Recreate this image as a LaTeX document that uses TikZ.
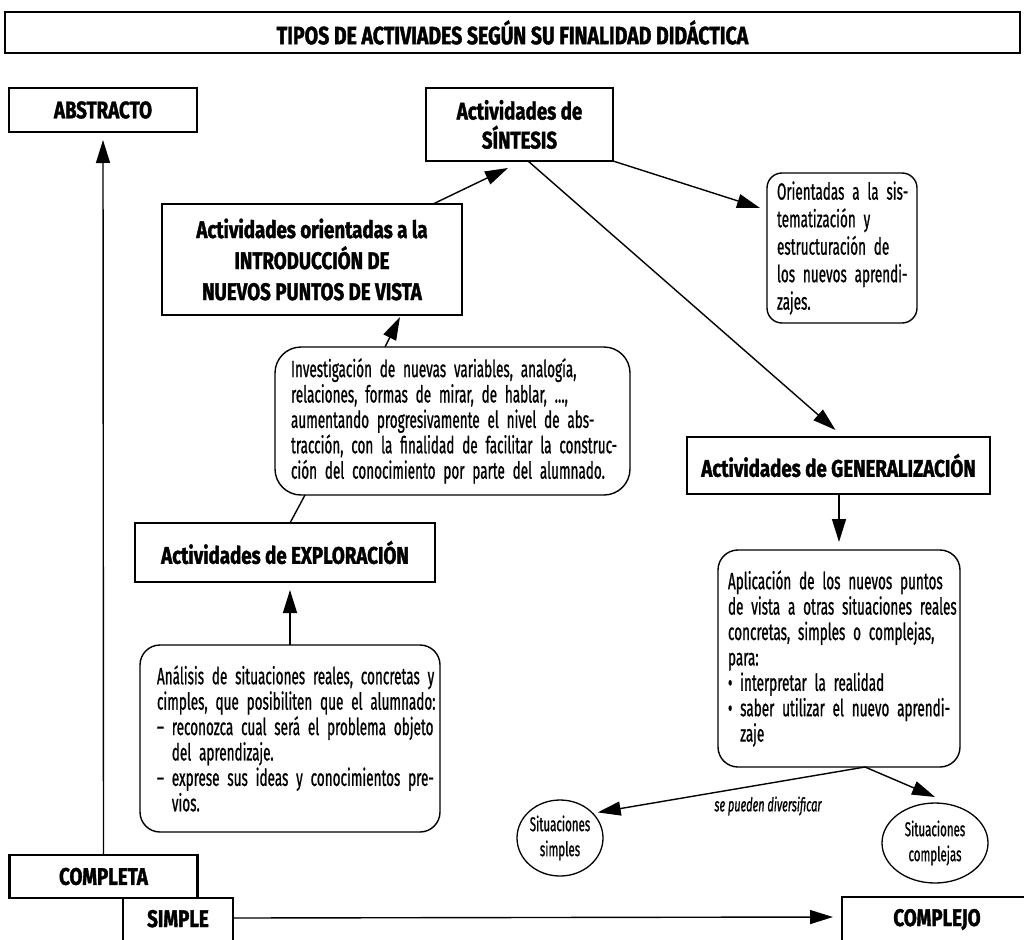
\documentclass[tikz,border=0pt]{standalone}
\usepackage{fontspec}
\setmainfont{Fira Sans}[FakeStretch=0.575, FakeBold=0.8]
\newfontfamily\headfont{Fira Sans}[FakeStretch=0.78, BoldFeatures={FakeBold=1.5}]
\usetikzlibrary{arrows.meta,shapes.geometric}
% a line of a justified paragraph, stretched to the full width
\newcommand{\jline}[1]{\makebox[\hsize][s]{#1}}

\begin{document}
\begin{tikzpicture}[x=1pt,y=-1pt,
  every node/.style={inner sep=0pt, outer sep=0pt},
  hbox/.style={draw, line width=2.2pt, align=center,
    font=\headfont\bfseries\fontsize{24}{29}\selectfont},
  note/.style={draw, line width=1.4pt, rounded corners=#1, align=left,
    font=\fontsize{23.5}{25.4}\selectfont},
  note/.default=18pt,
  oval/.style={draw, ellipse, line width=1.3pt, align=center,
    font=\fontsize{20}{25}\selectfont},
  link/.style={line width=1.4pt, -{Triangle[length=23pt,width=14pt]}},
  wire/.style={line width=1.4pt}]

\useasboundingbox (0,0) rectangle (1024,939);

% headings
\node[hbox, minimum width=1015pt, minimum height=41pt,
  font=\headfont\bfseries\fontsize{25}{29}\selectfont] (title) at (512.5,32.5)
  {TIPOS DE ACTIVIADES SEGÚN SU FINALIDAD DIDÁCTICA};
\node[hbox, minimum width=188pt, minimum height=44pt] (abstracto) at (103,110) {ABSTRACTO};
\node[hbox, minimum width=187pt, minimum height=73pt] (sintesis) at (519.5,124.5)
  {Actividades de\\SÍNTESIS};
\node[hbox, minimum width=300pt, minimum height=111pt,
  font=\headfont\bfseries\fontsize{24}{31}\selectfont] (intro) at (312,259.5)
  {Actividades orientadas a la\\INTRODUCCIÓN DE\\NUEVOS PUNTOS DE VISTA};
\node[hbox, minimum width=300pt, minimum height=59pt] (explor) at (285,552.5)
  {Actividades de EXPLORACIÓN};
\node[hbox, minimum width=303pt, minimum height=57pt] (general) at (838.5,465.5)
  {Actividades de GENERALIZACIÓN};
\node[hbox, minimum width=188pt, minimum height=43pt] (completa) at (103.5,876.5) {COMPLETA};
\node[hbox, anchor=north, minimum width=110pt, text height=29pt, text depth=40pt]
  (simple) at (178,898) {SIMPLE};
\node[hbox, anchor=north west, minimum width=190pt, text height=29pt, text depth=40pt]
  (complejo) at (842,897) {COMPLEJO};

% explanatory notes
\node[note=15pt, minimum width=150pt, minimum height=150pt, text width=130pt,
  font=\fontsize{23.5}{27.5}\selectfont] (orient) at (842,248) {%
  \jline{Orientadas a la sis-}\\
  \jline{tematización y}\\
  \jline{estructuración de}\\
  \jline{los nuevos aprendi-}\\
  zajes.};
\node[note=26pt, minimum width=355pt, minimum height=148pt, text width=323pt]
  (invest) at (452.5,421) {%
  \jline{Investigación de nuevas variables, analogía,}\\
  \jline{relaciones, formas de mirar, de hablar, …,}\\
  \jline{aumentando progresivamente el nivel de abs-}\\
  \jline{tracción, con la finalidad de facilitar la construc-}\\
  ción del conocimiento por parte del alumnado.};
\node[note=20pt, minimum width=300pt, minimum height=187pt, text width=266pt]
  (analisis) at (290,738.5) {%
  \jline{Análisis de situaciones reales, concretas y}\\
  \jline{cimples, que posibiliten que el alumnado:}\\
  \jline{– reconozca cual será el problema objeto}\\
  \hphantom{– }del aprendizaje.\\
  \jline{– exprese sus ideas y conocimientos pre-}\\
  \hphantom{– }vios.};
\node[note=20pt, minimum width=242pt, minimum height=217pt, text width=222pt]
  (aplic) at (839,658.5) {%
  \jline{Aplicación de los nuevos puntos}\\
  \jline{de vista a otras situaciones reales}\\
  \jline{concretas, simples o complejas,}\\
  para:\\
  • interpretar la realidad\\
  \jline{• saber utilizar el nuevo aprendi-}\\
  \hphantom{• }zaje};

% situations
\node[oval, minimum width=86pt, minimum height=76pt] (simples) at (560,838) {Situaciones\\simples};
\node[oval, minimum width=106pt, minimum height=80pt] (complejas) at (935,843) {Situaciones\\complejas};
\node[font=\itshape\fontsize{19}{20}\selectfont] (divers) at (768,806) {se pueden diversificar};

% connectors
\draw[link] (completa.north) -- ([yshift=-8pt]abstracto.south);
\draw[link] ([yshift=9pt]simple.base east) -- ([xshift=-9pt,yshift=9pt]complejo.base west);
\draw[link] ([xshift=121pt]intro.north) -- ([xshift=-11.5pt,yshift=-7pt]sintesis.south);
\draw[link] (sintesis.south east) -- ([xshift=-7pt,yshift=40pt]orient.west);
\draw[link] ([xshift=8.5pt]sintesis.south) -- ([xshift=-3pt,yshift=7pt]general.north);
\draw[link] ([xshift=-67.5pt]invest.north) -- ([xshift=88pt,yshift=-2pt]intro.south);
\draw[wire] ([xshift=5pt]explor.north) -- ([xshift=-147.5pt]invest.south);
\draw[link, shorten >=8pt] (analisis.north) -- (analisis.north |- explor.south);
\draw[link, shorten >=8pt] (general.south -| aplic.north) -- (aplic.north);
\draw[link] ([xshift=26pt]aplic.south) -- ([xshift=4pt,yshift=2pt]simples.35);
\draw[link] ([xshift=26pt]aplic.south) -- ([yshift=6pt]complejas.north);
\end{tikzpicture}
\end{document}
